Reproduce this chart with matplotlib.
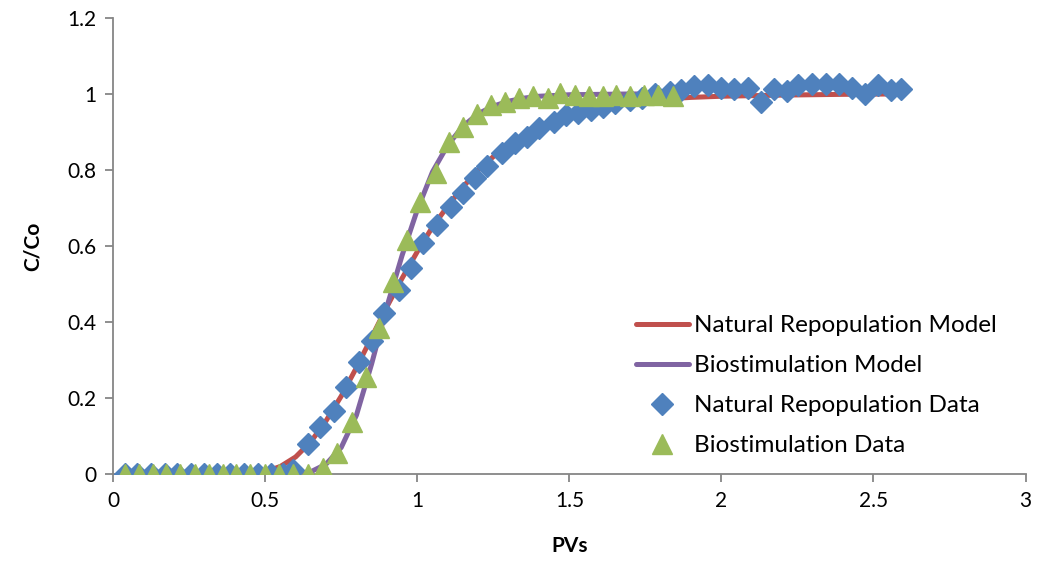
import matplotlib
matplotlib.use('Agg')
import matplotlib.pyplot as plt
from matplotlib.ticker import FuncFormatter

# -------------------- data --------------------
# model curves (sampled along the drawn line)
nat_model_pv = [0.04, 0.1, 0.2, 0.3, 0.4, 0.45, 0.5, 0.55, 0.6, 0.65, 0.7, 0.75, 0.8, 0.85,
                0.9, 0.95, 1.0, 1.05, 1.1, 1.15, 1.2, 1.25, 1.3, 1.35, 1.4, 1.45, 1.5,
                1.6, 1.7, 1.8, 1.9, 2.0, 2.2, 2.4, 2.58]
nat_model_c = [0, 0, 0, 0, 0, 0.001, 0.006, 0.02, 0.045, 0.085, 0.14, 0.205, 0.28, 0.36,
               0.44, 0.515, 0.585, 0.65, 0.705, 0.755, 0.8, 0.835, 0.865, 0.89, 0.91, 0.928, 0.943,
               0.963, 0.977, 0.986, 0.991, 0.994, 0.997, 0.999, 1.0]

bio_model_pv = [0.04, 0.2, 0.4, 0.55, 0.6, 0.65, 0.7, 0.75, 0.8, 0.85, 0.9, 0.95, 1.0,
                1.05, 1.1, 1.15, 1.2, 1.25, 1.3, 1.35, 1.4, 1.5, 1.6, 1.7, 1.84]
bio_model_c = [0, 0, 0, 0, 0.001, 0.006, 0.026, 0.07, 0.155, 0.29, 0.44, 0.575, 0.695,
               0.795, 0.865, 0.915, 0.948, 0.968, 0.981, 0.989, 0.994, 0.998, 0.999, 1.0, 1.0]

# measured data
nat_data_pv = [0.04, 0.08, 0.125, 0.17, 0.21, 0.255, 0.3, 0.34, 0.385, 0.43, 0.475,
               0.52, 0.56, 0.59, 0.64, 0.68, 0.725, 0.765, 0.81, 0.85, 0.89, 0.94,
               0.98, 1.02, 1.065, 1.11, 1.15, 1.19, 1.23, 1.28, 1.32, 1.36, 1.40,
               1.45, 1.49, 1.53, 1.57, 1.61, 1.65, 1.70, 1.74, 1.78, 1.83, 1.866,
               1.909, 1.955, 1.998, 2.04, 2.087, 2.13, 2.173, 2.216, 2.252, 2.298,
               2.344, 2.387, 2.43, 2.473, 2.516, 2.559, 2.59]
nat_data_c = [0, 0, 0, 0, 0, 0, 0, 0, 0, 0, 0,
              0, 0, 0.01, 0.079, 0.124, 0.166, 0.229, 0.295, 0.35, 0.424, 0.484,
              0.542, 0.608, 0.655, 0.703, 0.74, 0.78, 0.81, 0.845, 0.87, 0.887, 0.91,
              0.926, 0.945, 0.95, 0.958, 0.966, 0.976, 0.985, 0.99, 1.0, 1.005, 1.01,
              1.02, 1.024, 1.016, 1.013, 1.016, 0.979, 1.013, 1.008, 1.024, 1.026,
              1.026, 1.026, 1.016, 1.0, 1.024, 1.01, 1.013]

bio_data_pv = [0.04, 0.085, 0.13, 0.175, 0.22, 0.27, 0.315, 0.36, 0.405, 0.45, 0.5,
               0.545, 0.59, 0.64, 0.69, 0.735, 0.785, 0.83, 0.875, 0.92, 0.966, 1.01,
               1.06, 1.105, 1.15, 1.197, 1.243, 1.29, 1.335, 1.38, 1.43, 1.47, 1.52,
               1.565, 1.61, 1.655, 1.70, 1.745, 1.79, 1.84]
bio_data_c = [0, 0, 0, 0, 0, 0, 0, 0, 0, 0, 0,
              0, 0, 0, 0.016, 0.055, 0.137, 0.255, 0.384, 0.505, 0.616, 0.716,
              0.792, 0.874, 0.913, 0.947, 0.971, 0.979, 0.99, 0.995, 0.99, 1.003, 0.997,
              0.995, 0.995, 0.997, 0.995, 0.998, 0.997, 0.995]

x_ticks = [0, 0.5, 1, 1.5, 2, 2.5, 3]
y_ticks = [0, 0.2, 0.4, 0.6, 0.8, 1, 1.2]

# -------------------- plot --------------------
plt.rcParams['font.family'] = ['Lato', 'DejaVu Sans']

fig = plt.figure(figsize=(10.38, 5.61), dpi=100)
ax = fig.add_axes([0.109, 0.155, 0.879, 0.813])

ax.plot(nat_model_pv, nat_model_c, color='#C0504D', lw=3.6, solid_capstyle='round',
        label='Natural Repopulation Model', zorder=2)
ax.plot(bio_model_pv, bio_model_c, color='#8064A2', lw=3.6, solid_capstyle='round',
        label='Biostimulation Model', zorder=2)
ax.plot(nat_data_pv, nat_data_c, linestyle='none', marker='D', ms=11.5, color='#4F81BD',
        mec='#4F81BD', label='Natural Repopulation Data', zorder=3)
ax.plot(bio_data_pv, bio_data_c, linestyle='none', marker='^', ms=14, color='#9BBB59',
        mec='#9BBB59', label='Biostimulation Data', zorder=4)

ax.set_xlim(0, 3)
ax.set_ylim(0, 1.2)
ax.set_xticks(x_ticks)
ax.set_yticks(y_ticks)
fmt = FuncFormatter(lambda v, p: ('%g' % v))
ax.xaxis.set_major_formatter(fmt)
ax.yaxis.set_major_formatter(fmt)

for s in ['top', 'right']:
    ax.spines[s].set_visible(False)
for s in ['left', 'bottom']:
    ax.spines[s].set_color('#868686')
    ax.spines[s].set_linewidth(1.3)
ax.tick_params(direction='out', length=6, width=1.3, color='#868686',
               labelsize=15, labelcolor='black', pad=6)

ax.set_xlabel('PVs', fontsize=15, fontweight='bold', labelpad=18)
ax.set_ylabel('C/Co', fontsize=15, fontweight='bold', labelpad=18)

ax.legend(loc='upper left', bbox_to_anchor=(0.603, 0.455), bbox_transform=fig.transFigure,
          frameon=False, fontsize=17.5, handlelength=2.2, handletextpad=0.2,
          labelspacing=0.78, borderaxespad=0)

fig.savefig('out.png', dpi=100)
